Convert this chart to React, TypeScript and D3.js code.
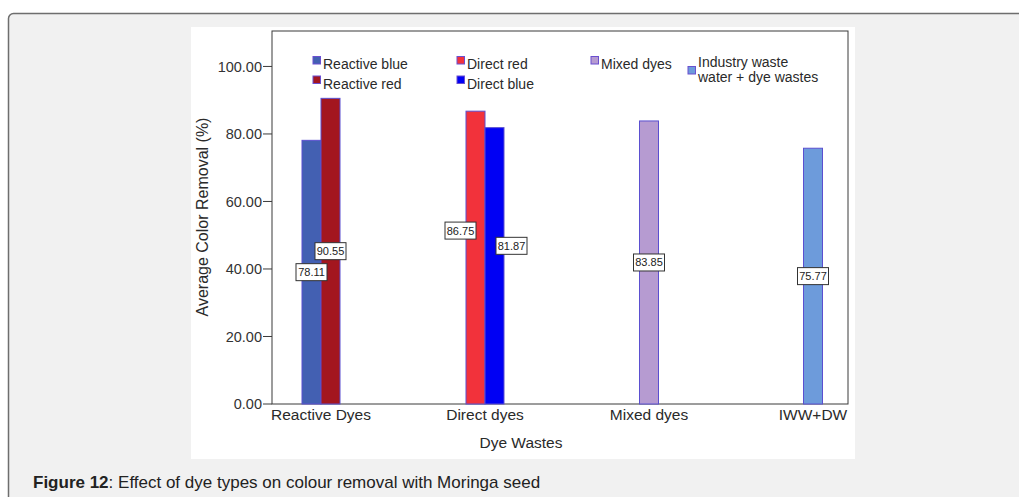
import React from "react";
import * as d3 from "d3";

const categories = ["Reactive Dyes", "Direct dyes", "Mixed dyes", "IWW+DW"];
const seriesNames = [
  "Reactive blue",
  "Reactive red",
  "Direct red",
  "Direct blue",
  "Mixed dyes",
  "Industry waste water + dye wastes",
];
const seriesCategory = ["Reactive Dyes", "Reactive Dyes", "Direct dyes", "Direct dyes", "Mixed dyes", "IWW+DW"];
const seriesValues = [78.11, 90.55, 86.75, 81.87, 83.85, 75.77];
const seriesColors = ["#4360b2", "#a3161f", "#f2323b", "#0000f4", "#b69bd1", "#6d9bdb"];
const yTicks = [0, 20, 40, 60, 80, 100];

const FONT = "'Liberation Sans', Arial, sans-serif";

export default function App() {
  const plot = { left: 272, right: 848, top: 31, bottom: 404 };
  const y = d3.scaleLinear().domain([0, 110.5]).range([plot.bottom, plot.top]);
  const x = d3.scalePoint<string>().domain(categories).range([321, 813]);
  const barW = 19;

  const clusterInfo = seriesNames.map((_, i) => {
    const cat = seriesCategory[i];
    const members = seriesCategory.map((c, j) => (c === cat ? j : -1)).filter((j) => j >= 0);
    return { idx: members.indexOf(i), n: members.length };
  });

  const labelNudge: Record<string, [number, number]> = {
    "Direct red": [-15, -27],
    "Direct blue": [17, -20],
  };

  const legendSlots: [number, number][] = [
    [313, 60],
    [313, 79.5],
    [457, 60],
    [457, 79.5],
    [591, 60],
    [688, 70],
  ];

  return (
    <svg
      width={1019}
      height={497}
      style={{ position: "absolute", left: 0, top: 0, fontFamily: FONT }}
    >
      <rect x={0} y={0} width={1019} height={497} fill="#ffffff" />
      <rect x={8.5} y={13.5} width={1030} height={500} rx={5} fill="#f1f1f1" stroke="#6e6e6e" strokeWidth={1.5} />
      <rect x={191} y={27} width={664} height={432} fill="#ffffff" />

      <rect
        x={plot.left}
        y={plot.top}
        width={plot.right - plot.left}
        height={plot.bottom - plot.top}
        fill="#ffffff"
        stroke="#3a3a3a"
        strokeWidth={1}
      />

      {seriesNames.map((name, i) => {
        const { idx, n } = clusterInfo[i];
        const cx = x(seriesCategory[i])!;
        const x0 = cx - (n * barW) / 2 + idx * barW;
        const v = seriesValues[i];
        return (
          <rect
            key={name}
            x={x0}
            y={y(v)}
            width={barW}
            height={y(0) - y(v)}
            fill={seriesColors[i]}
            stroke="#5b4fd0"
            strokeWidth={1}
          />
        );
      })}

      {yTicks.map((t) => (
        <g key={t}>
          <line x1={263} x2={plot.left} y1={y(t)} y2={y(t)} stroke="#3a3a3a" strokeWidth={1} />
          <text x={262} y={y(t)} dy="0.35em" textAnchor="end" fontSize={14.5} fill="#333">
            {d3.format(".2f")(t)}
          </text>
        </g>
      ))}

      {categories.map((c) => (
        <text key={c} x={x(c)!} y={420} textAnchor="middle" fontSize={15.5} fill="#2a2a2a">
          {c}
        </text>
      ))}

      <text x={521} y={448} textAnchor="middle" fontSize={15.5} fill="#2a2a2a">
        Dye Wastes
      </text>
      <text transform={`translate(208,217) rotate(-90)`} textAnchor="middle" fontSize={16} fill="#2a2a2a">
        Average Color Removal (%)
      </text>

      {seriesNames.map((name, i) => {
        const { idx, n } = clusterInfo[i];
        const cx = x(seriesCategory[i])! - (n * barW) / 2 + idx * barW + barW / 2;
        const v = seriesValues[i];
        const [dx, dy] = labelNudge[name] || [0, 0];
        const lx = cx + dx;
        const ly = y(v / 2) + dy;
        const w = 31;
        const h = 17;
        return (
          <g key={"lab" + name}>
            <rect x={lx - w / 2} y={ly - h / 2} width={w} height={h} fill="#ffffff" stroke="#333" strokeWidth={1} />
            <text x={lx} y={ly} dy="0.36em" textAnchor="middle" fontSize={11} fill="#222">
              {v.toFixed(2)}
            </text>
          </g>
        );
      })}

      {seriesNames.map((name, i) => {
        const [lx, ly] = legendSlots[i];
        const lines =
          name === "Industry waste water + dye wastes" ? ["Industry waste", "water + dye wastes"] : [name];
        return (
          <g key={"leg" + name}>
            <rect x={lx} y={ly - 3.5} width={7.5} height={7.5} fill={seriesColors[i]} stroke="#6a4fd0" strokeWidth={1} />
            {lines.map((ln, k) => (
              <text
                key={k}
                x={lx + 10}
                y={(lines.length > 1 ? 67 : ly + 9) + k * 15}
                fontSize={14}
                fill="#2a2a2a"
              >
                {ln}
              </text>
            ))}
          </g>
        );
      })}

      <text x={33} y={488} fontSize={17} fill="#222">
        <tspan fontWeight="bold">Figure 12</tspan>
        <tspan>: Effect of dye types on colour removal with Moringa seed</tspan>
      </text>
    </svg>
  );
}
